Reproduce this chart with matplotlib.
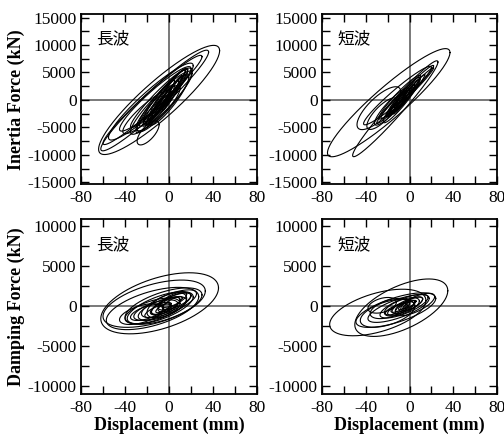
import numpy as np
import matplotlib
matplotlib.use("Agg")
import matplotlib.pyplot as plt
from matplotlib.ticker import MultipleLocator, FuncFormatter

# Loops: (x centre mm, x amplitude mm, force centre kN,
#                               slope kN/mm, half-height kN at centre)
inertia_long = [
    (-9, 55, 0, 163, 4300),
    (-13, 49, -100, 180, 2500),
    (-15, 45, 0, 175, 2000),
    (-16.5, 38.5, -300, 170, 2500),
    (-12.5, 32.5, 200, 170, 2000),
    (-10, 25, 200, 200, 1500),
    (-19, 10, -6000, 150, 1600),
    (-5, 22, 500, 230, 1500),
    (-3, 18, 0, 250, 1200),
    (-6, 15, -500, 260, 1000),
    (0, 12, 1000, 280, 800),
    (-8, 10, -1000, 300, 700),
    (2, 8, 500, 300, 600),
    (-2, 5, 0, 300, 400),
    (-10, 20, -1500, 180, 2000),
    (-4, 25, 0, 210, 2500),
    (-1, 16, 1500, 250, 1200),
    (-12, 12, -2000, 220, 900),
    (-7, 28, -500, 190, 2200),
    (-3, 20, 800, 220, 1800),
    (1, 14, 2000, 240, 1000),
    (-14, 16, -2500, 200, 1400),
    (-5, 10, 300, 320, 900),
    (3, 10, 1500, 280, 700),
    (-9, 14, -800, 240, 1300),
    (0, 18, 0, 230, 2000),
    (-6, 7, -300, 330, 500),
    (-20, 22, -2200, 160, 1800),
]
inertia_short = [
    (-19, 56, -500, 163, 3700),
    (-13, 39, -1600, 218, 2000),
    (-28, 20, -1500, 150, 2500),
    (-11, 31, 800, 165, 1500),
    (-4, 26, 1000, 200, 1000),
    (-9, 19, 500, 200, 1200),
    (-6, 15, 300, 220, 900),
    (-8, 11, 0, 240, 800),
    (-4, 9, 400, 260, 600),
    (-10, 7, -300, 260, 500),
    (-2, 6, 600, 280, 400),
    (-14, 12, -800, 200, 900),
    (0, 14, 1200, 240, 700),
    (-7, 17, 0, 230, 1400),
    (-12, 9, -600, 250, 700),
    (-3, 12, 800, 270, 900),
    (-9, 5, 0, 300, 400),
    (-16, 16, -1200, 190, 1500),
    (2, 20, 1800, 200, 700),
    (-25, 14, -2500, 160, 1800),
]
damping_long = [
    (-8.5, 53.5, 350, 36, 3300),
    (-13.5, 46.5, 300, 34, 2500),
    (-15, 42, -300, 35, 2200),
    (-5, 35, 0, 40, 1800),
    (-8, 30, -200, 45, 1500),
    (0, 25, 300, 50, 1200),
    (-12, 20, -500, 40, 1000),
    (2, 18, 300, 55, 900),
    (-3, 13, 0, 60, 800),
    (-10, 12, -600, 50, 600),
    (3, 9, 400, 70, 500),
    (-5, 7, -200, 70, 400),
    (-20, 15, -800, 40, 800),
    (5, 15, 600, 50, 800),
    (-6, 22, -300, 45, 1100),
    (-2, 18, 100, 50, 1300),
    (-15, 25, -600, 38, 1300),
    (0, 10, 200, 60, 700),
    (-8, 9, -300, 55, 600),
    (4, 12, 800, 55, 700),
    (-25, 20, -1000, 35, 1100),
]
damping_short = [
    (-29, 44, -800, 34, 2500),
    (-7.5, 42.5, -200, 50, 2900),
    (-12.5, 36.5, -500, 40, 1600),
    (-10, 28, -300, 45, 1200),
    (-5, 22, 0, 50, 1000),
    (5, 18, 200, 55, 1000),
    (-18, 18, -300, 35, 1100),
    (-8, 12, -300, 50, 600),
    (-4, 9, 0, 60, 500),
    (-10, 7, -200, 60, 400),
    (0, 6, 200, 70, 300),
    (-25, 13, 100, 30, 900),
    (-2, 14, 100, 55, 700),
    (-7, 16, -100, 45, 900),
    (-5, 5, 0, 70, 300),
    (-12, 10, -400, 50, 500),
    (2, 10, 300, 60, 600),
    (-20, 25, -900, 36, 1500),
]

labels_wave = ["長波", "短波"]
ylabels = ["Inertia Force (kN)", "Damping Force (kN)"]
xlabel = "Displacement (mm)"

W, H = 504, 436
fig = plt.figure(figsize=(W / 100, H / 100), dpi=100)

def rect(l, r, t, b):
    return [l / W, 1 - b / H, (r - l) / W, (b - t) / H]

panels = [
    (rect(81, 257, 14.3, 184.5), inertia_long, 0, (-15400, 15600), 2500, 5000, 0),
    (rect(322, 497, 14.3, 184.5), inertia_short, 1, (-15400, 15600), 2500, 5000, 0),
    (rect(81, 257, 219, 394), damping_long, 0, (-11000, 10900), 2500, 5000, 1),
    (rect(322, 497, 219, 394), damping_short, 1, (-11000, 10900), 2500, 5000, 1),
]

serif = "Liberation Serif"
t = np.linspace(0, 2 * np.pi, 300)

for pos, loops, wi, ylim, yminor, ylab_step, row in panels:
    ax = fig.add_axes(pos)
    ax.axhline(0, color="#555555", lw=1.1, zorder=1)
    ax.axvline(0, color="#555555", lw=1.1, zorder=1)
    for xc, A, fc, k, b in loops:
        x = xc + A * np.cos(t)
        y = fc + k * A * np.cos(t) + b * np.sin(t)
        ax.plot(x, y, color="black", lw=0.8, zorder=2)
    ax.set_xlim(-80, 80)
    ax.set_ylim(*ylim)
    ax.xaxis.set_major_locator(MultipleLocator(20))
    ax.yaxis.set_major_locator(MultipleLocator(yminor))
    ax.xaxis.set_major_formatter(FuncFormatter(
        lambda v, p: f"{int(round(v))}" if round(v) % 40 == 0 else ""))
    ax.yaxis.set_major_formatter(FuncFormatter(
        lambda v, p, s=ylab_step: f"{int(round(v))}" if round(v) % s == 0 else ""))
    ax.tick_params(direction="in", length=6, width=1.0, top=True, right=True,
                   labelsize=12.5)
    ax.tick_params(axis="x", pad=4)
    ax.tick_params(axis="y", pad=3)
    for lab in ax.get_xticklabels() + ax.get_yticklabels():
        lab.set_fontfamily(serif)
    for sp in ax.spines.values():
        sp.set_linewidth(1.3)
    ax.text(0.088, 0.855, labels_wave[wi], transform=ax.transAxes,
            fontsize=12, family=["Noto Sans CJK JP", "DejaVu Sans"],
            va="center", ha="left")
    if wi == 0:
        ax.set_ylabel(ylabels[row], fontsize=13, fontweight="bold",
                      family=serif, labelpad=2)
    if row == 1:
        ax.set_xlabel(xlabel, fontsize=13, fontweight="bold", family=serif,
                      labelpad=0.5)

fig.savefig("out.png", dpi=100)
